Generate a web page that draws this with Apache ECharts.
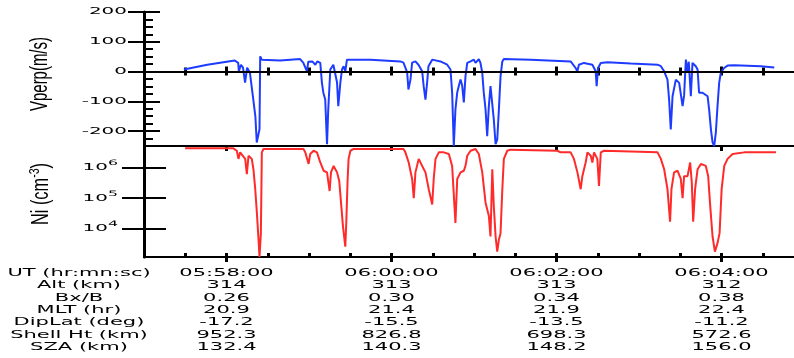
<!DOCTYPE html>
<html>
<head>
<meta charset="utf-8">
<script src="https://cdn.jsdelivr.net/npm/echarts@6/dist/echarts.min.js"></script>
<style>
  html, body { margin: 0; padding: 0; background: #fff; }
  #chart { width: 794px; height: 358px; }
</style>
</head>
<body>
<div id="chart"></div>
<script>
// times are seconds after 05:57:00 UT
const vTime = [29, 46, 66, 68.5, 69, 70.5, 72, 73.5, 75, 77, 79.5, 81, 82, 83, 84, 84.5, 85.7, 99, 113.5, 115.8,
  118.5, 119.5, 122.4, 124.6, 126, 128.2, 129.4, 130.4, 131.8, 133.1, 134, 135.5, 137.7, 140.4, 141.3, 142.8, 144, 145.2, 146.4, 147.6,
  164.6, 186.5, 188.7, 191.4, 192.3, 193.8, 195, 197.4, 199.6, 202.3, 203.4, 204.7, 205.9, 206.9, 209.6, 215.6, 220.5, 222.9, 224.1, 225.3,
  226.5, 227.8, 228.9, 230.2, 231.4, 232.6, 233.8, 235.1, 237.5, 239.9, 241.1, 243.5, 244.7, 246, 247.1, 248.4, 249.6, 250.8, 252, 253.3,
  254.4, 255.7, 256.9, 258.1, 259.3, 260.6, 261.7, 281.2, 310.3, 313.9, 315.2, 316.3, 320, 326.1, 328.5, 329.2, 330.2, 332.2, 337, 354,
  373.5, 375.9, 378.3, 380.7, 381.9, 383.1, 384.4, 386.8, 389.2, 391.7, 392.8, 394.1, 395.3, 396.2, 397.7, 398.9, 400.1, 401.3, 402.6, 403.7,
  406.2, 409.9, 411, 412.3, 413.5, 414.7, 415.9, 417.1, 418.3, 419.5, 421.9, 424.4, 429.2, 448.7, 458.4];
const vperp = [7, 23, 37, 29, 1, 23, 13, -37, 13, -3, -94, -151, -238, -244, -194, 51, 40, 37, 42, 30,
  1, 33, 34, 23, 34, 29, -38, -70, -94, -244, -127, 7, 23, -37, -116, -37, 7, 18, 1, 40,
  40, 34, 30, -3, -60, -27, 30, 34, 23, 1, -49, -94, -37, 18, 40, 34, 23, 7, -70, -250,
  -127, -70, -49, -27, -47, -104, -16, 29, 34, 40, 29, 42, 29, -4, -70, -127, -217, -116, -49, -44,
  -161, -244, -228, -127, -16, 34, 42, 40, 34, 12, 1, 23, 29, 23, 1, -49, 12, 29, 31, 27,
  23, 18, 1, -27, -94, -194, -83, -27, -38, -116, -80, 40, -3, 33, -83, 29, 34, 18, 7, -71,
  -71, -83, -127, -194, -238, -250, -204, -116, -38, -4, 12, 20, 21, 18, 14];

const niTime = [29.9, 65, 67.5, 68.7, 69.9, 71.2, 73.6, 74.8, 76, 78.4, 79.6, 80.9, 82.1, 83.3, 84, 85, 85.7, 86.9, 116, 117.3,
  119.7, 120.9, 123.3, 125.8, 128.2, 130.6, 133.1, 135, 136, 137.9, 140.4, 142, 143.5, 144.7, 146.4, 147.1, 148.1, 148.8, 150.1, 152.5,
  188.7, 190.1, 192.5, 195, 196.2, 197.4, 199.8, 202.3, 204.7, 207.1, 209.6, 210.7, 212, 214.4, 218, 221.7, 224.1, 226.5, 227.8, 230.2,
  232.6, 233.8, 235.1, 237.5, 241.1, 243.5, 246, 248.4, 250.8, 252, 253.3, 254.4, 255.7, 256.9, 258.1, 259.3, 260.6, 261.7, 264.2, 266.6,
  300.6, 303, 310.3, 312.7, 315.2, 317.6, 318.8, 321.2, 322.5, 324.9, 326.1, 327.3, 329.7, 330.9, 332.2, 334.6, 373.5, 375.9, 378.3, 380.7,
  382.6, 383.6, 385.5, 388, 390.4, 391.7, 392.8, 395.3, 397.2, 398.4, 399.4, 400.8, 402.6, 405, 408.6, 410.3, 411.8, 413.5, 415.2, 417.1,
  418.6, 420.1, 422, 424.4, 428.1, 436.5, 459.6];
const ni = [4.2e6, 4.2e6, 3.5e6, 1.9e6, 3.1e6, 3.5e6, 1.9e6, 6.0e5, 2.4e6, 1.9e6, 8.7e5, 1.95e5, 3.3e4, 4.4e3, 1.2e3, 7.2e3, 3.1e6, 4.0e6, 4.0e6, 3.1e6,
  1.3e6, 2.75e6, 3.5e6, 3.1e6, 1.45e6, 7.8e5, 6.9e5, 1.7e5, 6.9e5, 1.12e6, 6.9e5, 3.6e5, 5.5e4, 1.2e4, 2.6e3, 1.55e4, 4.2e5, 1.9e6, 3.5e6, 4.0e6,
  4.0e6, 3.1e6, 1.45e6, 4.2e5, 1.0e5, 6.9e5, 1.9e6, 1.12e6, 6.9e5, 1.95e5, 6.2e4, 4.2e5, 1.9e6, 3.1e6, 3.1e6, 2.75e6, 1.12e6, 1.55e4, 4.2e5, 6.9e5,
  7.8e5, 1.12e6, 2.4e6, 3.5e6, 4.0e6, 2.75e6, 6.9e5, 7.1e4, 2.6e4, 5.6e3, 8.7e5, 5.5e4, 5.6e3, 1.8e3, 4.4e3, 7.2e3, 1.95e5, 1.9e6, 3.5e6, 3.8e6,
  3.5e6, 3.1e6, 3.1e6, 1.9e6, 6.9e5, 1.95e5, 5.2e5, 1.45e6, 3.1e6, 2.4e6, 1.45e6, 3.1e6, 1.9e6, 2.5e5, 3.1e6, 3.5e6, 3.1e6, 1.9e6, 8.7e5, 1.95e5,
  1.7e4, 1.95e5, 6.9e5, 7.8e5, 4.2e5, 1.0e5, 5.2e5, 5.2e5, 1.45e6, 3.2e5, 1.7e4, 1.95e5, 8.7e5, 1.3e6, 1.12e6, 5.2e5, 5.5e4, 5.6e3, 1.8e3, 3.4e3,
  7.2e3, 1.95e5, 1.12e6, 1.9e6, 2.75e6, 3.1e6, 3.1e6];

const majorTicks = [60, 180, 300, 420];
const vTicks = [200, 100, 0, -100, -200];
const niTicks = [1e4, 1e5, 1e6];

const rowNames = ['UT (hr:mn:sc)', 'Alt (km)', 'Bx/B', 'MLT (hr)', 'DipLat (deg)', 'Shell Ht (km)', 'SZA (km)'];
const utLabels = ['05:58:00', '06:00:00', '06:02:00', '06:04:00'];
const alt = ['314', '313', '313', '312'];
const bxb = ['0.26', '0.30', '0.34', '0.38'];
const mlt = ['20.9', '21.4', '21.9', '22.4'];
const dipLat = ['-17.2', '-15.5', '-13.5', '-11.2'];
const shellHt = ['952.3', '826.8', '698.3', '572.6'];
const sza = ['132.4', '140.3', '148.2', '156.0'];
const tableRows = [utLabels, alt, bxb, mlt, dipLat, shellHt, sza];

const black = '#000';
const chart = echarts.init(document.getElementById('chart'));

// two axes per edge: small ticks every 30 s inside, big ticks every 2 min outside
function xEdge(grid, pos, major) {
    return {
        type: 'value', gridIndex: grid, position: pos, min: 0, max: 480, interval: 30,
        axisLine: { show: true, lineStyle: { color: black, width: 2 } },
        axisTick: major
            ? { show: true, customValues: majorTicks, inside: false, length: 5, lineStyle: { color: black, width: 3 } }
            : { show: true, inside: true, length: 4, lineStyle: { color: black, width: 3 } },
        axisLabel: { show: false },
        splitLine: { show: false }
    };
}

function yEdge(grid, pos, o) {
    return Object.assign({
        gridIndex: grid, position: pos,
        axisLine: { show: true, lineStyle: { color: black, width: pos === 'left' ? 3 : 2 } },
        axisLabel: { show: false },
        splitLine: { show: false }
    }, o);
}

chart.setOption({
    animation: false,
    grid: [
        { left: 144, right: -10, top: 12, height: 134, outerBoundsMode: 'none' },
        { left: 144, right: -10, top: 146, height: 111, outerBoundsMode: 'none' }
    ],
    xAxis: [
        xEdge(0, 'top', false), xEdge(0, 'top', true),
        xEdge(0, 'bottom', false), xEdge(0, 'bottom', true),
        xEdge(1, 'bottom', false), xEdge(1, 'bottom', true)
    ],
    yAxis: [
        yEdge(0, 'left', { type: 'value', min: -250, max: 200,
            axisTick: { show: true, inside: true, length: 16, customValues: vTicks, lineStyle: { color: black, width: 2 } } }),
        yEdge(0, 'left', { type: 'value', min: -250, max: 200, interval: 25,
            axisLine: { show: false },
            axisTick: { show: true, inside: true, length: 9, lineStyle: { color: black, width: 2 } } }),
        yEdge(0, 'right', { type: 'value', min: -250, max: 200,
            axisTick: { show: true, inside: true, length: 16, customValues: vTicks, lineStyle: { color: black, width: 2 } } }),
        yEdge(1, 'left', { type: 'log', logBase: 10, min: 1200, max: 5e6,
            axisTick: { show: true, inside: true, length: 22, customValues: niTicks, lineStyle: { color: black, width: 2 } } }),
        yEdge(1, 'right', { type: 'log', logBase: 10, min: 1200, max: 5e6,
            axisTick: { show: true, inside: true, length: 22, customValues: niTicks, lineStyle: { color: black, width: 2 } } })
    ],
    series: [
        {
            type: 'line', xAxisIndex: 0, yAxisIndex: 0,
            data: vTime.map((t, i) => [t, vperp[i]]),
            showSymbol: false,
            lineStyle: { color: '#1e3cff', width: 2 },
            markLine: {
                silent: true, symbol: 'none', label: { show: false },
                lineStyle: { color: black, width: 2, type: 'solid' },
                data: [{ yAxis: 0 }]
            }
        },
        {
            type: 'line', xAxisIndex: 4, yAxisIndex: 3,
            data: niTime.map((t, i) => [t, ni[i]]),
            showSymbol: false,
            lineStyle: { color: '#ff2a2a', width: 2 }
        }
    ]
});

// wide plotter-style lettering, placed through the axes
const FONT = 'DejaVu Sans';
const SX = 2.1;
function label(x, y, s, align, size, rich) {
    return {
        type: 'text', x: x, y: y, scaleX: SX, silent: true,
        style: { text: s, fill: black, fontFamily: FONT, fontSize: size || 10,
            align: align, verticalAlign: 'middle', rich: rich }
    };
}

const g = [];
vTicks.forEach(v => {
    g.push(label(127, chart.convertToPixel({ yAxisIndex: 0 }, v), String(v), 'right', 9.5));
});
const supRich = { sup: { fontFamily: FONT, fontSize: 7.5, padding: [0, 0, 9, 0] } };
niTicks.forEach(v => {
    g.push(label(118, chart.convertToPixel({ yAxisIndex: 3 }, v),
        '10{sup|' + Math.round(Math.log10(v)) + '}', 'right', 9.5, supRich));
});

const colX = majorTicks.map(t => chart.convertToPixel({ xAxisIndex: 4 }, t));
rowNames.forEach((name, r) => {
    const y = 273.5 + r * 12.3;
    g.push(label(79, y, name, 'center'));
    tableRows[r].forEach((s, c) => g.push(label(colX[c], y, s, 'center')));
});

g.push({
    type: 'text', x: 41, y: 74, rotation: Math.PI / 2, scaleX: 0.65, silent: true,
    style: { text: 'Vperp(m/s)', fill: black, fontFamily: 'Liberation Sans', fontSize: 23,
        align: 'center', verticalAlign: 'middle' }
});
g.push({
    type: 'text', x: 42, y: 194, rotation: Math.PI / 2, scaleX: 0.71, silent: true,
    style: { text: 'Ni (cm{sup|-3})', fill: black, fontFamily: 'Liberation Sans', fontSize: 23,
        align: 'center', verticalAlign: 'middle',
        rich: { sup: { fontFamily: 'Liberation Sans', fontSize: 15, padding: [0, 0, 14, 0] } } }
});

chart.setOption({ graphic: g });
</script>
</body>
</html>
